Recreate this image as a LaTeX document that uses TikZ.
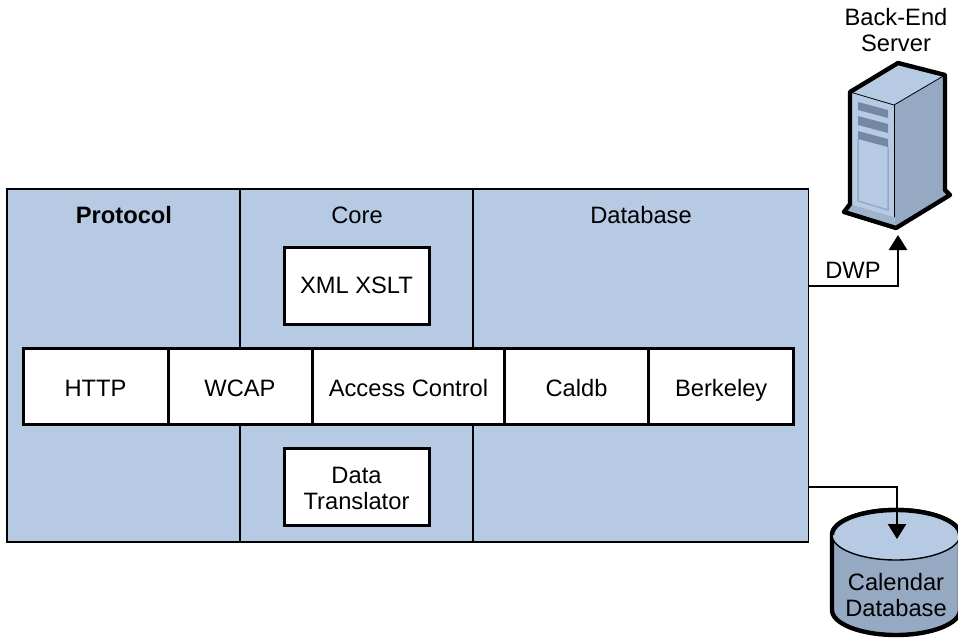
\documentclass[tikz,border=0pt]{standalone}
\usepackage{fontspec}
\setmainfont{Liberation Sans}
\usetikzlibrary{arrows.meta}
\definecolor{panelblue}{HTML}{B7CAE4}
\definecolor{sideblue}{HTML}{96A9C3}
\definecolor{slotblue}{HTML}{7488A6}
\tikzset{
  panel/.style={draw=black,line width=1.2pt,fill=panelblue,minimum height=353pt,inner sep=0pt,outer sep=0pt},
  whitebox/.style={draw=black,line width=3pt,fill=white,inner sep=0pt,outer sep=0pt,align=center},
  rowcell/.style={whitebox,minimum height=76pt,text height=21pt,text depth=0pt},
  lbl/.style={inner sep=0pt,align=center},
  link/.style={line width=2.6pt,draw=black,-{Triangle[length=15pt,width=18pt]}},
  heavy/.style={line width=4.4pt,line join=round,draw=black},
  txt/.style={font=\fontsize{23.7}{26}\selectfont}
}
\begin{document}
\begin{tikzpicture}[x=1pt,y=-1pt,every node/.style={txt}]
\useasboundingbox (0,0) rectangle (958,637);
% panels
\node[panel,minimum width=233pt] (protocol) at (123.5,365.5) {};
\node[panel,minimum width=233pt] (core) at (356.5,365.5) {};
\node[panel,minimum width=335.5pt] (database) at (640.75,365.5) {};
\node[lbl,font=\fontsize{23.7}{26}\selectfont\bfseries] (protocolT) at (124,215) {Protocol};
\node[lbl] (coreT) at (357,215) {Core};
\node[lbl] (databaseT) at (641,215) {Database};
% boxes
\node[whitebox,minimum width=145pt,minimum height=77pt] (xml) at (356.5,285.5) {XML XSLT};
\node[whitebox,minimum width=145pt,minimum height=77pt] (trans) at (356.5,487.3) {\rule{0pt}{18pt}Data\\Translator};
\node[rowcell,minimum width=145pt] (http) at (95.5,386) {HTTP};
\node[rowcell,minimum width=144pt] (wcap) at (240,386) {WCAP};
\node[rowcell,minimum width=192pt] (access) at (408.5,386) {Access Control};
\node[rowcell,minimum width=145pt] (caldb) at (576.5,386) {Caldb};
\node[rowcell,minimum width=145pt] (berkeley) at (721.2,386) {Berkeley};
% server
\fill[panelblue] (850,92) -- (898,63) -- (945,75) -- (894,105) -- cycle;
\fill[sideblue] (894,105) -- (945,75) -- (945,190) -- (950,195) -- (896,228) -- (894,217) -- cycle;
\fill[panelblue] (850,92) -- (894,105) -- (894,217) -- (850,204) -- cycle;
\fill[sideblue!70!panelblue] (850,204) -- (894,217) -- (896,228) -- (844,212) -- cycle;
\fill[slotblue] (858,102) -- (888,110) -- (888,118) -- (858,110) -- cycle;
\fill[slotblue] (858,116) -- (888,124) -- (888,133) -- (858,125) -- cycle;
\fill[slotblue] (858,131) -- (888,139) -- (888,147) -- (858,139) -- cycle;
\draw[sideblue,line width=1.5pt] (858,139) -- (858,201) -- (888,210) -- (888,147);
\draw[black,line width=0.8pt] (850,92) -- (894,105) -- (945,75);
\draw[black,line width=0.8pt] (894,105) -- (894,217);
\draw[heavy] (850,204) -- (850,92) -- (898,63) -- (945,75) -- (945,190) -- (950,195) -- (896,228) -- (844,212) -- cycle;
% cylinder
\draw[heavy,fill=sideblue] (832,535) -- (832,610)
  arc[start angle=180,end angle=360,x radius=64pt,y radius=25pt] -- (960,535)
  arc[start angle=0,end angle=180,x radius=64pt,y radius=25pt] -- cycle;
\draw[black,line width=1.4pt,fill=panelblue] (896,535) ellipse[x radius=64pt,y radius=25pt];
\draw[heavy] (832,535) arc[start angle=180,end angle=0,x radius=64pt,y radius=25pt];
\node[lbl] (caldbT) at (896,595) {Calendar\\Database};
% labels
\node[lbl] (backend) at (896,30.5) {Back-End\\Server};
\node[lbl] (dwp) at (853,270) {DWP};
% connectors
\coordinate (dwpStart) at (database.east |- 0,286);
\coordinate (dbStart) at (database.east |- 0,487);
\coordinate (serverFoot) at (898,235);
\coordinate (dbArrow) at (897,539);
\draw[link] (dwpStart) -| (serverFoot);
\draw[link] (dbStart) -| (dbArrow);
\end{tikzpicture}
\end{document}
